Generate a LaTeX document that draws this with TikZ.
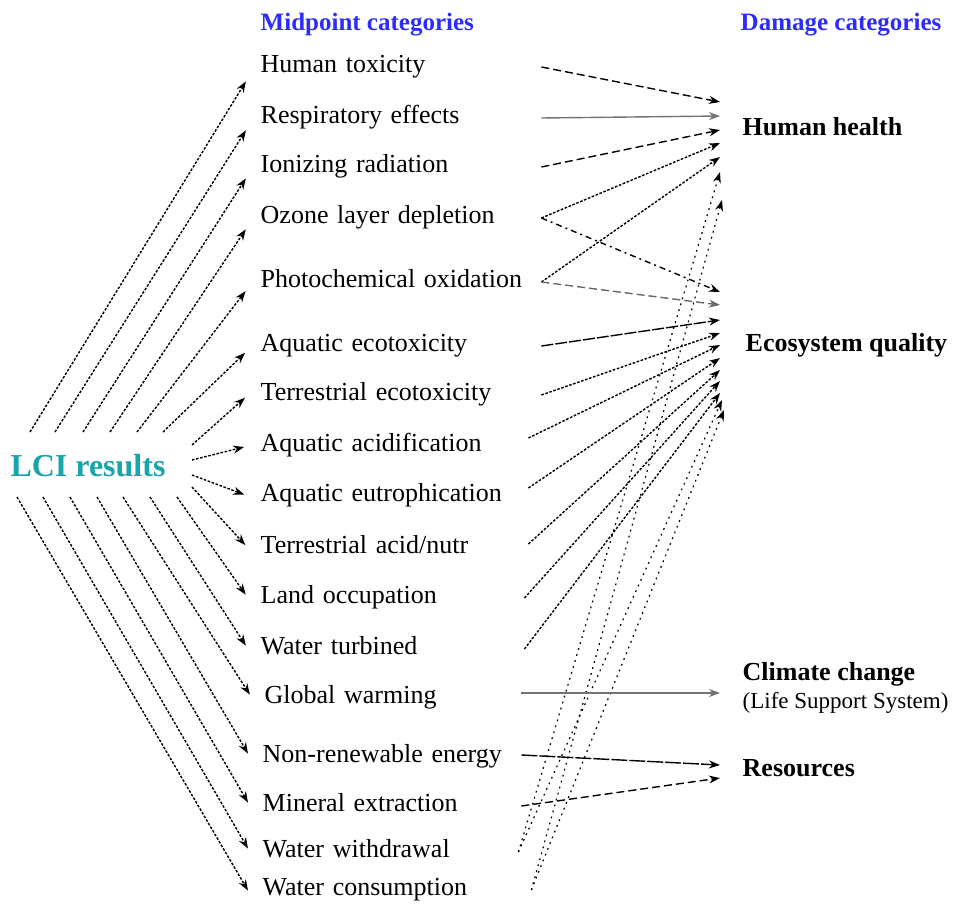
\documentclass[tikz,border=0pt]{standalone}
\usepackage{fontspec}
\setmainfont{Liberation Serif}
\usetikzlibrary{arrows.meta,positioning}

\definecolor{hdrblue}{RGB}{45,45,250}
\definecolor{lciteal}{RGB}{25,165,170}

\begin{document}
\begin{tikzpicture}[x=0.5pt,y=-0.5pt,>={Stealth[length=5.5pt,width=4pt]},line width=0.7pt,
    mid/.style={anchor=west,inner xsep=6pt,inner ysep=2pt,text width=136pt,align=left,
      text height=1.5ex,text depth=.25ex,font=\fontsize{13}{15}\selectfont},
    dmg/.style={anchor=west,inner sep=3pt,font=\fontsize{13}{15}\selectfont\bfseries},
    hdr/.style={anchor=west,inner sep=3pt,text=hdrblue,font=\fontsize{12.5}{15}\selectfont\bfseries},
    fine/.style={->,dash pattern=on 1.3pt off 0.8pt},
    longdash/.style={->,dash pattern=on 4pt off 2pt},
    solidgray/.style={->,black!55},
    dashdot/.style={->,dash pattern=on 3pt off 2pt on 1pt off 2pt},
    dots/.style={->,line width=0.6pt,dash pattern=on 0.9pt off 2.2pt}]

    \useasboundingbox (0,0) rectangle (955,905);

    % column headers
    \node[hdr] (midhdr) at (254,25) {Midpoint categories};
    \node[hdr] (dmghdr) at (734,25) {Damage categories};

    \node[text=lciteal,font=\fontsize{16}{18}\selectfont\bfseries] (lci) at (88,466) {LCI results};

    % midpoint categories
    \node[mid] (ht) at (248,67) {Human toxicity};
    \node[mid] (re) at (248,118) {Respiratory effects};
    \node[mid] (ir) at (248,167) {Ionizing radiation};
    \node[mid] (od) at (248,218) {Ozone layer depletion};
    \node[mid] (po) at (248,282) {Photochemical oxidation};
    \node[mid] (ae) at (248,346) {Aquatic ecotoxicity};
    \node[mid] (te) at (248,395) {Terrestrial ecotoxicity};
    \node[mid] (aa) at (248,446) {Aquatic acidification};
    \node[mid] (au) at (248,496) {Aquatic eutrophication};
    \node[mid] (ta) at (248,548) {Terrestrial acid/nutr};
    \node[mid] (lo) at (248,598) {Land occupation};
    \node[mid] (wt) at (248,649) {Water turbined};
    \node[mid] (gw) at (252,698) {Global warming};
    \node[mid] (nr) at (250,757) {Non-renewable energy};
    \node[mid] (me) at (250,806) {Mineral extraction};
    \node[mid] (ww) at (250,852) {Water withdrawal};
    \node[mid] (wc) at (250,890) {Water consumption};

    % damage categories
    \node[dmg] (hh) at (736,127) {Human health};
    \node[dmg] (eq) at (739,345) {Ecosystem quality};
    \node[dmg,align=left] (cc) at (736,688) {Climate change\\[-1pt]{\fontsize{11.5}{13}\selectfont\mdseries (Life Support System)}};
    \node[dmg] (res) at (736,768) {Resources};

    % LCI results to midpoints
    \foreach \m/\sx/\sy/\dy in {ht/30/432/-5.5pt, re/55/432/-4.5pt, ir/83/432/-4pt,
        od/110/432/-4pt, po/137/432/-3pt, ae/163/432/-2pt, te/192/445/0pt,
        aa/192/460/0pt, au/192/475/0pt, ta/192/487/0pt, lo/177/497/0pt,
        wt/150/497/0pt, gw/123/497/0pt, nr/97/497/0pt, me/70/497/0pt,
        ww/43/497/0pt, wc/17/497/-2pt}
    {
        \coordinate (s-\m) at (\sx,\sy);
        \draw[fine,shorten >=2pt] (s-\m) -- ([yshift=\dy]\m.west);
    }

    % midpoints to human health
    \path ([xshift=-2pt]ht.east) edge[longdash] ([xshift=-8pt,yshift=12.5pt]hh.west)
          ([xshift=-2pt]re.east) edge[solidgray] ([xshift=-8pt,yshift=5.5pt]hh.west)
          ([xshift=-2pt]ir.east) edge[longdash] ([xshift=-8pt,yshift=-1.5pt]hh.west)
          ([xshift=-2pt]od.east) edge[fine] ([xshift=-8pt,yshift=-8pt]hh.west)
          ([xshift=-2pt]po.east) edge[fine] ([xshift=-8pt,yshift=-15pt]hh.west)
          ([xshift=-14.5pt]ww.east) edge[dots] ([xshift=-8pt,yshift=-22.5pt]hh.west)
          ([xshift=-8pt]wc.east) edge[dots] ([xshift=-7pt,yshift=-36.5pt]hh.west);

    % midpoints to ecosystem quality
    \path ([xshift=-2pt]od.east) edge[dashdot] ([xshift=-9.5pt,yshift=26.5pt]eq.west)
          ([xshift=-2pt]po.east) edge[longdash,black!60] ([xshift=-9.5pt,yshift=20pt]eq.west)
          ([xshift=-2pt]ae.east) edge[->,dash pattern=on 6pt off 1pt] ([xshift=-9.5pt,yshift=12.5pt]eq.west)
          ([xshift=-2pt]te.east) edge[fine] ([xshift=-9.5pt,yshift=6pt]eq.west)
          ([xshift=-8.5pt,yshift=4pt]aa.east) edge[fine] ([xshift=-9.5pt]eq.west)
          ([xshift=-8.5pt,yshift=4pt]au.east) edge[fine] ([xshift=-9.5pt,yshift=-6.5pt]eq.west)
          ([xshift=-8.5pt,yshift=2pt]ta.east) edge[fine] ([xshift=-9.5pt,yshift=-12.5pt]eq.west)
          ([xshift=-10.5pt]lo.east) edge[fine] ([xshift=-9.5pt,yshift=-18pt]eq.west)
          ([xshift=-10.5pt]wt.east) edge[fine] ([xshift=-9.5pt,yshift=-24pt]eq.west)
          ([xshift=-14.5pt]ww.east) edge[dots] ([xshift=-8.5pt,yshift=-27.5pt]eq.west)
          ([xshift=-8pt]wc.east) edge[dots] ([xshift=-7.5pt,yshift=-32.5pt]eq.west);

    % climate change and resources
    \path ([xshift=-14pt,yshift=2.5pt]gw.east) edge[solidgray] ([xshift=-8pt,yshift=-2.5pt]cc.west)
          ([xshift=-13pt,yshift=1pt]nr.east) edge[->,dash pattern=on 8pt off 1pt] ([xshift=-8pt,yshift=1.5pt]res.west)
          ([xshift=-13pt]me.east) edge[longdash] ([xshift=-8pt,yshift=-5pt]res.west);
\end{tikzpicture}
\end{document}
